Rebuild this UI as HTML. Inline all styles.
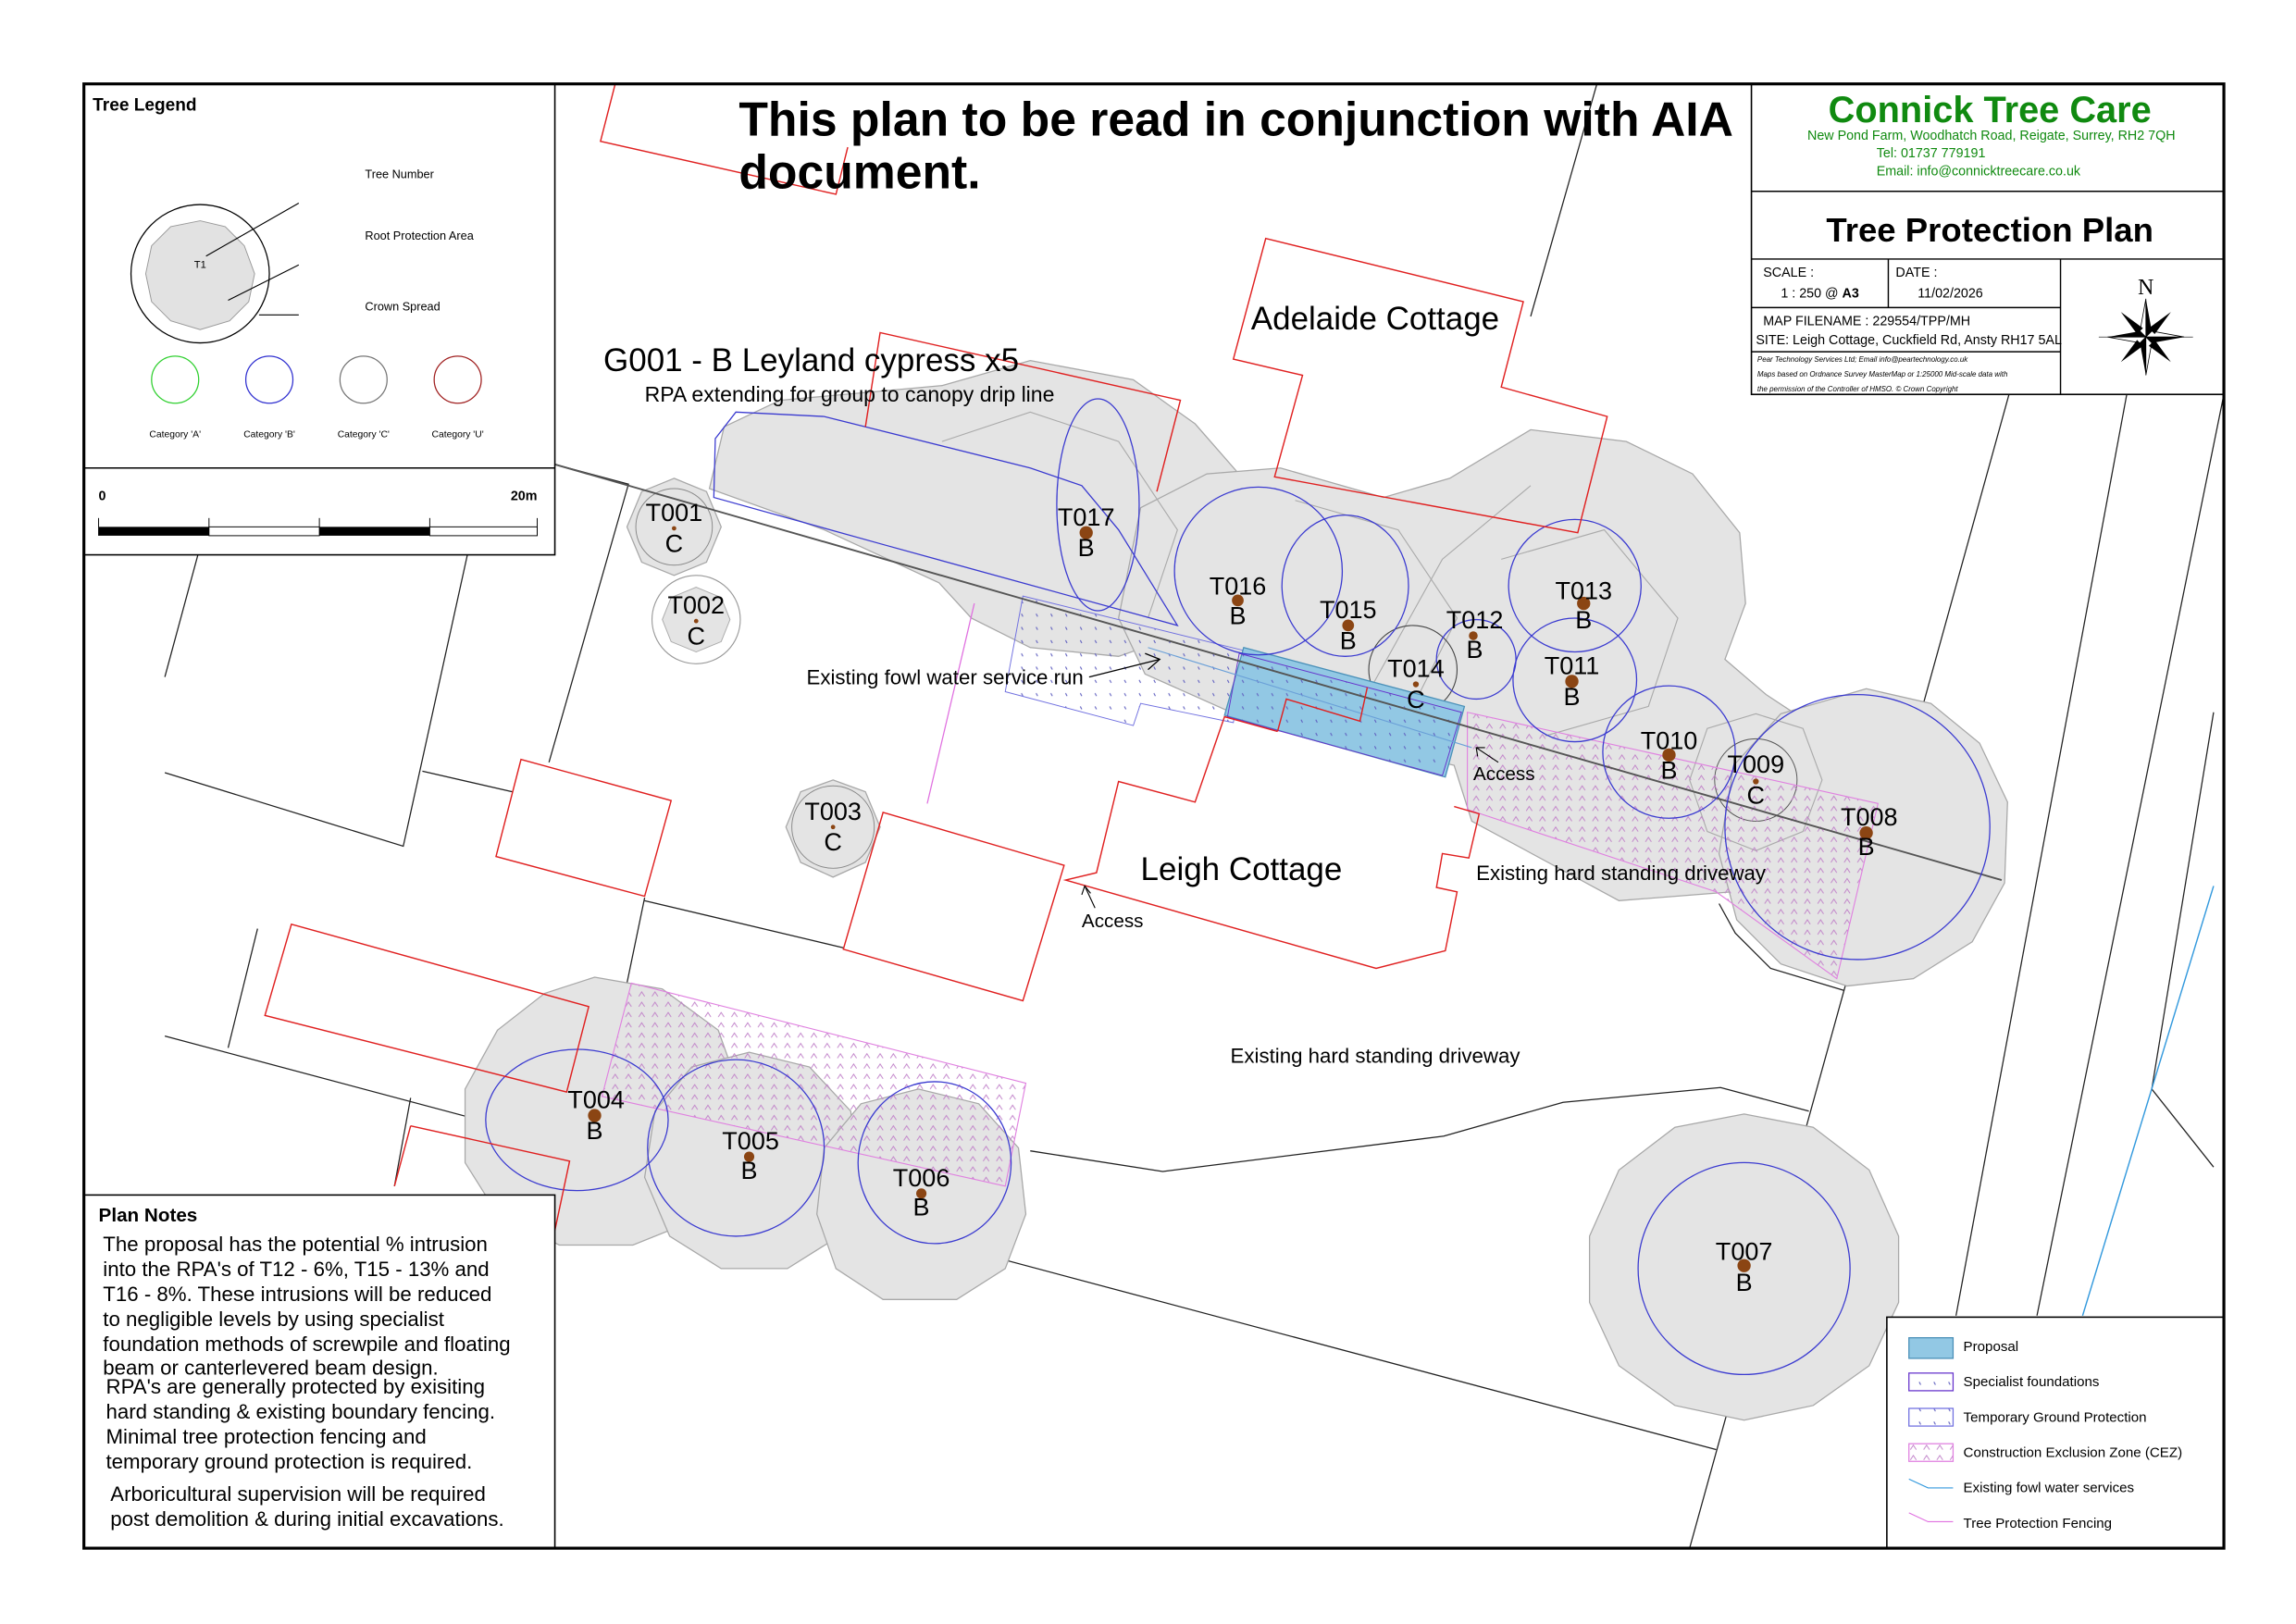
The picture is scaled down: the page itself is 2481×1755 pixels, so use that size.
<!DOCTYPE html>
<html><head><meta charset="utf-8"><style>
html,body{margin:0;padding:0;background:#fff;}
svg{display:block;font-family:"Liberation Sans",Arial,sans-serif;}
</style></head><body>
<svg width="2481" height="1755" viewBox="0 0 1560 1103.5" xmlns="http://www.w3.org/2000/svg">
<defs>
<pattern id="cez" width="9" height="7" patternUnits="userSpaceOnUse"><path d="M2 5 L4 2 L6 5" fill="none" stroke="#c080c8" stroke-width="0.6"/></pattern>
<pattern id="tgp" width="10" height="9" patternUnits="userSpaceOnUse"><path d="M4 3 l1 2" stroke="#6060c0" stroke-width="0.7"/></pattern>
</defs>
<rect width="1560" height="1103.5" fill="#fff"/>

<g stroke="#222" stroke-width="0.8" fill="none">
<polyline points="135,375 112,460"/>
<polyline points="318,375 274,575 112,525"/>
<polyline points="287,524 348,538"/>
<polyline points="375,315 427,329 373,518"/>
<polyline points="438,612 573,644"/>
<polyline points="438,610 403,779"/>
<polyline points="175,631 155,712"/>
<polyline points="112,704 1166,985"/>
<polyline points="279,746 268,806"/>
<polyline points="700,782 790,796 981,772 1062,749 1169,739 1229,755"/>
<polyline points="1365,268 1148,1052"/>
<polyline points="1445,268 1329,894"/>
<polyline points="1511,268 1384,894"/>
<polyline points="1504,484 1462,740 1504,793"/>
<polyline points="1168,614 1179,634 1203,658 1253,673"/>
<polyline points="1085,57 1040,215"/>
</g>
<line x1="1504" y1="602" x2="1415" y2="894" stroke="#3399dd" stroke-width="0.9"/>

<g fill="#e4e4e4" stroke="#a8a8a8" stroke-width="0.8">
<polygon points="482,332 492,290 530,272 640,262 700,245 770,258 812,288 840,320 852,352 832,400 800,432 760,446 700,440 660,420 638,396 560,360"/>
<polygon points="775,345 820,322 870,318 940,338 985,325 1040,292 1105,300 1150,322 1182,362 1186,410 1172,448 1200,472 1235,495 1250,525 1230,565 1190,605 1100,612 1000,558 988,520 850,490 778,458 760,420"/>
<polygon points="1268,468 1312,478 1345,505 1364,545 1362,600 1340,640 1300,665 1255,670 1210,655 1180,625 1168,580 1178,520 1210,485"/>
<polygon points="1185,757 1232,766 1270,795 1290,840 1290,885 1270,928 1232,955 1185,965 1138,955 1100,928 1080,885 1080,840 1100,795 1138,766"/>
<polygon points="404,664 450,672 488,700 504,745 498,795 470,830 430,846 380,846 338,825 316,790 316,740 338,700 370,675"/>
<polygon points="509,715 550,725 578,755 584,800 570,840 535,862 490,862 455,840 438,800 445,755 470,725"/>
<polygon points="624,740 665,750 692,780 697,825 683,862 650,883 600,883 568,862 555,825 560,780 585,750"/>
<polygon points="458,325 480,334 490,358 480,382 458,391 436,382 426,358 436,334"/>
<polygon points="566,530 588,538 598,562 588,586 566,596 544,586 534,562 544,538"/>
</g>
<circle cx="473" cy="421" r="30" fill="#fff" stroke="#999" stroke-width="0.7"/>
<polygon points="473,399 490,406 496,421 490,436 473,443 456,436 450,421 456,406" fill="#e4e4e4" stroke="#aaa" stroke-width="0.6"/>
<circle cx="458" cy="358" r="26" fill="none" stroke="#888" stroke-width="0.6"/>
<circle cx="566" cy="562" r="28" fill="none" stroke="#888" stroke-width="0.6"/>
<g fill="none" stroke="#aaa" stroke-width="0.7">
<polygon points="1193,485 1225,495 1238,530 1225,565 1193,578 1160,565 1148,530 1160,495"/>
<polyline points="640,300 700,280 760,300 800,360 780,420"/>
<polyline points="880,340 950,360 990,420 960,480"/>
<polyline points="1020,380 1090,360 1140,420 1120,480 1050,500"/>
<polyline points="930,470 980,380 1040,330"/>
</g>
<circle cx="1193" cy="530" r="28" fill="none" stroke="#555" stroke-width="0.6"/>
<circle cx="960" cy="455" r="30" fill="none" stroke="#444" stroke-width="0.7"/>

<polygon points="429,668 697,736 683,806 409,745" fill="url(#cez)" stroke="#e080e0" stroke-width="0.7"/>
<polygon points="997,484 1276,546 1248,665 1166,606 997,550" fill="url(#cez)" stroke="#e080e0" stroke-width="0.7"/>
<polygon points="695,405 845,442 838,491 775,478 770,493 683,470" fill="url(#tgp)" stroke="#7070e0" stroke-width="0.6"/>
<line x1="662" y1="410" x2="630" y2="546" stroke="#e070e0" stroke-width="0.8"/>

<polygon points="845,440 995,480 982,528 832,486" fill="#92c8e4" stroke="#4a90b8" stroke-width="0.8"/>
<polygon points="842,444 993,484 980,527 834,487" fill="url(#tgp)" stroke="#6633cc" stroke-width="0.6"/>
<line x1="780" y1="440" x2="1000" y2="508" stroke="#6aa0d8" stroke-width="0.7"/>

<line x1="375" y1="315" x2="1360" y2="598" stroke="#555" stroke-width="1.2"/>

<g fill="none" stroke="#3a3ad0" stroke-width="0.8">
<polygon points="485,338 486,298 500,280 560,283 700,318 735,330 760,360 800,425 600,370"/>
<ellipse cx="746" cy="343" rx="28" ry="72"/>
<circle cx="855" cy="388" r="57"/>
<ellipse cx="914" cy="398" rx="43" ry="48"/>
<circle cx="1070" cy="398" r="45"/>
<circle cx="1070" cy="462" r="42"/>
<circle cx="1003" cy="448" r="27"/>
<circle cx="1134" cy="511" r="45"/>
<circle cx="1262" cy="562" r="90"/>
<circle cx="1185" cy="862" r="72"/>
<ellipse cx="392" cy="761" rx="62" ry="48"/>
<circle cx="500" cy="780" r="60"/>
<ellipse cx="635" cy="790" rx="52" ry="55"/>
</g>

<g fill="none" stroke="#e02020" stroke-width="0.9">
<polygon points="600,552 723,588 695,680 573,645"/>
<polygon points="354,516 456,544 438,609 337,582"/>
<polygon points="198,628 400,684 385,742 180,690"/>
<polyline points="279,765 387,789 377,836"/>
<polyline points="279,765 268,806"/>
<polyline points="418,57 408,96 568,132 576,100"/>
<polyline points="588,290 598,226 802,272 786,334"/>
<polygon points="860,162 1035,205 1020,263 1092,283 1072,362 866,324 885,255 838,244"/>
<polyline points="868,497 832,487 812,545 760,531 745,593 724,598 935,658 982,646 990,606 976,603 980,580 998,583 1005,553 988,548"/>
<polyline points="868,497 874,475 924,490 929,467"/>
</g>

<g fill="#8b4513">
<circle cx="458" cy="359" r="1.5"/><circle cx="473" cy="422" r="1.5"/><circle cx="566" cy="562" r="1.5"/>
<circle cx="738" cy="362" r="4.5"/><circle cx="841" cy="408" r="4"/><circle cx="916" cy="425" r="4"/>
<circle cx="1001" cy="432" r="3"/><circle cx="1076" cy="410" r="4.5"/><circle cx="962" cy="465" r="2"/>
<circle cx="1068" cy="463" r="4.5"/><circle cx="1134" cy="513" r="4.5"/><circle cx="1193" cy="531" r="2"/>
<circle cx="1268" cy="566" r="4.5"/><circle cx="1185" cy="860" r="4.5"/><circle cx="404" cy="758" r="4.5"/>
<circle cx="509" cy="786" r="3.5"/><circle cx="626" cy="811" r="3.5"/>
</g>
<g font-size="17" text-anchor="middle" fill="#000">
<text x="458" y="354">T001</text><text x="458" y="375">C</text>
<text x="473" y="417">T002</text><text x="473" y="438">C</text>
<text x="566" y="557">T003</text><text x="566" y="578">C</text>
<text x="738" y="357">T017</text><text x="738" y="378">B</text>
<text x="841" y="404">T016</text><text x="841" y="424">B</text>
<text x="916" y="420">T015</text><text x="916" y="441">B</text>
<text x="1002" y="427">T012</text><text x="1002" y="447">B</text>
<text x="1076" y="407">T013</text><text x="1076" y="427">B</text>
<text x="962" y="460">T014</text><text x="962" y="481">C</text>
<text x="1068" y="458">T011</text><text x="1068" y="479">B</text>
<text x="1134" y="509">T010</text><text x="1134" y="529">B</text>
<text x="1193" y="525">T009</text><text x="1193" y="546">C</text>
<text x="1270" y="561">T008</text><text x="1268" y="581">B</text>
<text x="1185" y="856">T007</text><text x="1185" y="877">B</text>
<text x="405" y="753">T004</text><text x="404" y="774">B</text>
<text x="510" y="781">T005</text><text x="509" y="801">B</text>
<text x="626" y="806">T006</text><text x="626" y="826">B</text>
</g>

<text x="502" y="92" font-size="32.5" font-weight="bold">This plan to be read in conjunction with AIA</text>
<text x="502" y="128" font-size="32.5" font-weight="bold">document.</text>
<text x="850" y="224" font-size="22">Adelaide Cottage</text>
<text x="775" y="598" font-size="22">Leigh Cottage</text>
<text x="410" y="252" font-size="22">G001 - B Leyland cypress x5</text>
<text x="438" y="273" font-size="14.5">RPA extending for group to canopy drip line</text>
<text x="548" y="465" font-size="14">Existing fowl water service run</text>
<line x1="740" y1="460" x2="788" y2="448" stroke="#000" stroke-width="0.8"/>
<polyline points="778,444 788,448 780,455" fill="none" stroke="#000" stroke-width="0.8"/>
<text x="1001" y="530" font-size="13">Access</text>
<line x1="1018" y1="518" x2="1003" y2="508" stroke="#000" stroke-width="0.7"/>
<polyline points="1004,514 1003,508 1009,508" fill="none" stroke="#000" stroke-width="0.7"/>
<text x="735" y="630" font-size="13">Access</text>
<line x1="744" y1="617" x2="737" y2="602" stroke="#000" stroke-width="0.7"/>
<polyline points="735,608 737,602 741,607" fill="none" stroke="#000" stroke-width="0.7"/>
<text x="1003" y="598" font-size="14">Existing hard standing driveway</text>
<text x="836" y="722" font-size="14">Existing hard standing driveway</text>

<rect x="57" y="57" width="320" height="320" fill="#fff" stroke="#000" stroke-width="1"/>
<line x1="57" y1="318" x2="377" y2="318" stroke="#000" stroke-width="1"/>
<text x="63" y="75" font-size="12" font-weight="bold">Tree Legend</text>
<circle cx="136" cy="186" r="47" fill="none" stroke="#000" stroke-width="0.8"/>
<polygon points="136,150 153,154 166,167 173,186 169,205 156,218 136,224 116,218 103,205 99,186 103,167 116,154" fill="#e2e2e2" stroke="#999" stroke-width="0.6"/>
<text x="136" y="182" font-size="7" text-anchor="middle">T1</text>
<g stroke="#000" stroke-width="0.7">
<line x1="140" y1="174" x2="203" y2="138"/><line x1="155" y1="204" x2="203" y2="180"/><line x1="176" y1="214" x2="203" y2="214"/>
</g>
<g font-size="8"><text x="248" y="121">Tree Number</text><text x="248" y="163">Root Protection Area</text><text x="248" y="211">Crown Spread</text></g>
<circle cx="119" cy="258" r="16" fill="none" stroke="#30d030" stroke-width="0.8"/>
<circle cx="183" cy="258" r="16" fill="none" stroke="#3030d0" stroke-width="0.8"/>
<circle cx="247" cy="258" r="16" fill="none" stroke="#777" stroke-width="0.8"/>
<circle cx="311" cy="258" r="16" fill="none" stroke="#a02020" stroke-width="0.8"/>
<g font-size="6.5" text-anchor="middle"><text x="119" y="297">Category 'A'</text><text x="183" y="297">Category 'B'</text><text x="247" y="297">Category 'C'</text><text x="311" y="297">Category 'U'</text></g>
<text x="67" y="340" font-size="9" font-weight="bold">0</text>
<text x="365" y="340" font-size="9" font-weight="bold" text-anchor="end">20m</text>
<rect x="67" y="358" width="75" height="6" fill="#000"/><rect x="142" y="358" width="75" height="6" fill="#fff" stroke="#000" stroke-width="0.6"/>
<rect x="217" y="358" width="75" height="6" fill="#000"/><rect x="292" y="358" width="73" height="6" fill="#fff" stroke="#000" stroke-width="0.6"/>
<g stroke="#000" stroke-width="0.6"><line x1="67" y1="352" x2="67" y2="364"/><line x1="142" y1="352" x2="142" y2="358"/><line x1="217" y1="352" x2="217" y2="358"/><line x1="292" y1="352" x2="292" y2="358"/><line x1="365" y1="352" x2="365" y2="364"/></g>

<rect x="57" y="812" width="320" height="240" fill="#fff" stroke="#000" stroke-width="1"/>
<text x="67" y="830" font-size="13" font-weight="bold">Plan Notes</text>
<g font-size="14">
<text x="70" y="850">The proposal has the potential % intrusion</text>
<text x="70" y="867">into the RPA's of T12 - 6%, T15 - 13% and</text>
<text x="70" y="884">T16 - 8%. These intrusions will be reduced</text>
<text x="70" y="901">to negligible levels by using specialist</text>
<text x="70" y="918">foundation methods of screwpile and floating</text>
<text x="70" y="934">beam or canterlevered beam design.</text>
<text x="72" y="947">RPA's are generally protected by exisiting</text>
<text x="72" y="964">hard standing &amp; existing boundary fencing.</text>
<text x="72" y="981">Minimal tree protection fencing and</text>
<text x="72" y="998">temporary ground protection is required.</text>
<text x="75" y="1020">Arboricultural supervision will be required</text>
<text x="75" y="1037">post demolition &amp; during initial excavations.</text>
</g>

<rect x="1282" y="895" width="229" height="157" fill="#fff" stroke="#000" stroke-width="1"/>
<rect x="1297" y="909" width="30" height="14" fill="#92c8e4" stroke="#4a90b8" stroke-width="0.8"/>
<rect x="1297" y="933" width="30" height="12" fill="url(#tgp)" stroke="#6633cc" stroke-width="0.8"/>
<rect x="1297" y="957" width="30" height="12" fill="url(#tgp)" stroke="#7070e0" stroke-width="0.8"/>
<rect x="1297" y="981" width="30" height="12" fill="url(#cez)" stroke="#e080e0" stroke-width="0.8"/>
<polyline points="1297,1005 1310,1011 1327,1011" fill="none" stroke="#3399dd" stroke-width="0.7"/>
<polyline points="1297,1028 1310,1034 1327,1034" fill="none" stroke="#e070e0" stroke-width="0.7"/>
<g font-size="9.5"><text x="1334" y="918">Proposal</text><text x="1334" y="942">Specialist foundations</text><text x="1334" y="966">Temporary Ground Protection</text><text x="1334" y="990">Construction Exclusion Zone (CEZ)</text><text x="1334" y="1014">Existing fowl water services</text><text x="1334" y="1038">Tree Protection Fencing</text></g>

<rect x="1190" y="57" width="321" height="211" fill="#fff" stroke="#000" stroke-width="1"/>
<g stroke="#000" stroke-width="0.9"><line x1="1190" y1="130" x2="1511" y2="130"/><line x1="1190" y1="176" x2="1511" y2="176"/><line x1="1190" y1="209" x2="1400" y2="209"/><line x1="1190" y1="239" x2="1400" y2="239"/><line x1="1283" y1="176" x2="1283" y2="209"/><line x1="1400" y1="176" x2="1400" y2="268"/></g>
<text x="1352" y="83" font-size="25" font-weight="bold" fill="#108a10" text-anchor="middle">Connick Tree Care</text>
<g font-size="9" fill="#108a10"><text x="1353" y="95" text-anchor="middle">New Pond Farm, Woodhatch Road, Reigate, Surrey, RH2 7QH</text><text x="1275" y="107">Tel: 01737 779191</text><text x="1275" y="119">Email: info@connicktreecare.co.uk</text></g>
<text x="1352" y="164" font-size="23" font-weight="bold" text-anchor="middle">Tree Protection Plan</text>
<g font-size="9"><text x="1198" y="188">SCALE :</text><text x="1210" y="202">1 : 250  @ <tspan font-weight="bold">A3</tspan></text><text x="1288" y="188">DATE :</text><text x="1303" y="202">11/02/2026</text><text x="1198" y="221">MAP FILENAME : 229554/TPP/MH</text><text x="1193" y="234">SITE: Leigh Cottage, Cuckfield Rd, Ansty RH17 5AL</text></g>
<g font-size="5" font-style="italic"><text x="1194" y="246">Pear Technology Services Ltd; Email info@peartechnology.co.uk</text><text x="1194" y="256">Maps based on Ordnance Survey MasterMap or 1:25000 Mid-scale data with</text><text x="1194" y="266">the permission of the Controller of HMSO. © Crown Copyright</text></g>
<text x="1458" y="200" font-size="15" font-family="Liberation Serif,serif" text-anchor="middle">N</text>
<g transform="translate(1458,229)">
<polygon points="0,-26 4,-4 0,0" fill="#000"/><polygon points="0,-26 -4,-4 0,0" fill="#fff" stroke="#000" stroke-width="0.5"/>
<polygon points="0,26 -4,4 0,0" fill="#000"/><polygon points="0,26 4,4 0,0" fill="#fff" stroke="#000" stroke-width="0.5"/>
<polygon points="26,0 4,4 0,0" fill="#000"/><polygon points="26,0 4,-4 0,0" fill="#fff" stroke="#000" stroke-width="0.5"/>
<polygon points="-26,0 -4,-4 0,0" fill="#000"/><polygon points="-26,0 -4,4 0,0" fill="#fff" stroke="#000" stroke-width="0.5"/>
<polygon points="17,-17 2,-6 6,-2" fill="#000"/><polygon points="-17,17 -2,6 -6,2" fill="#000"/>
<polygon points="17,17 6,2 2,6" fill="#000"/><polygon points="-17,-17 -6,-2 -2,-6" fill="#000"/>
<line x1="-32" y1="0" x2="32" y2="0" stroke="#000" stroke-width="0.4"/>
</g>

<rect x="57" y="57" width="1454" height="995" fill="none" stroke="#000" stroke-width="2"/>
</svg>
</body></html>
